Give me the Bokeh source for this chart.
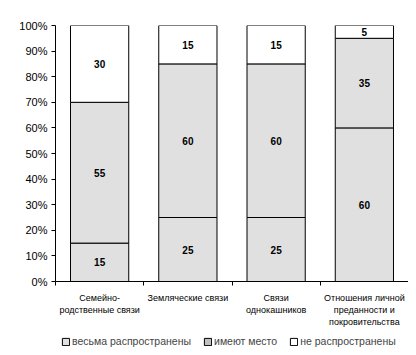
from bokeh.plotting import figure
from bokeh.layouts import column
from bokeh.models import (ColumnDataSource, Range1d, FixedTicker, PrintfTickFormatter,
                          Legend, LegendItem)
from bokeh.core.properties import value
from bokeh.embed import file_html
from bokeh.resources import INLINE
import numpy as np

categories = ["Семейно-\nродственные связи", "Земляческие связи",
              "Связи\nоднокашников", "Отношения личной\nпреданности и\nпокровительства"]
series_names = ["весьма распространены", "имеют место", "не распространены"]
widespread = [15, 25, 25, 60]
present = [55, 60, 60, 35]
absent = [30, 15, 15, 5]
y_ticks = [0, 10, 20, 30, 40, 50, 60, 70, 80, 90, 100]
bar_fills = ["#E0E0E0", "#E0E0E0", "#FFFFFF"]
legend_fills = ["#E0E0E0", "#C0C0C0", "#FFFFFF"]

n = len(categories)
centers = list(np.arange(n) + 0.5)
boundaries = list(range(n + 1))

src = ColumnDataSource(dict(x=centers, a=widespread, b=present, c=absent))

p = figure(width=408, height=329, output_backend="svg", toolbar_location=None,
           x_range=Range1d(0, n), y_range=Range1d(0, 100),
           min_border_left=55, min_border_right=0, min_border_top=25, min_border_bottom=44)
p.outline_line_color = None
p.xgrid.visible = False
p.ygrid.visible = False

rs = p.vbar_stack(["a", "b", "c"], x="x", width=0.66, source=src,
                  fill_color=bar_fills, line_color="black", line_width=1)

# segment labels
vals = np.array([widespread, present, absent], dtype=float)
cum = np.cumsum(vals, axis=0)
mids = cum - vals / 2
lx, ly, lt = [], [], []
for i in range(vals.shape[0]):
    for j in range(n):
        lx.append(centers[j]); ly.append(mids[i, j]); lt.append(str(int(vals[i, j])))
p.text(x=lx, y=ly, text=lt, text_align="center", text_baseline="middle",
       text_font=value("Liberation Sans"), text_font_style="bold",
       text_font_size="10px", text_color="black")

# y axis
p.yaxis.ticker = FixedTicker(ticks=y_ticks)
p.yaxis.formatter = PrintfTickFormatter(format="%d%%")
p.yaxis.major_label_text_font = "Liberation Sans"
p.yaxis.major_label_text_font_size = "11px"
p.yaxis.major_label_text_color = "black"
p.yaxis.major_tick_out = 4
p.yaxis.major_tick_in = 0
p.yaxis.minor_tick_line_color = None
p.yaxis.axis_line_color = "black"
p.yaxis.major_tick_line_color = "black"
p.yaxis.major_label_standoff = 4

# x axis: ticks at boundaries (minor), labels at centers
p.xaxis.ticker = FixedTicker(ticks=centers, minor_ticks=boundaries)
p.xaxis.major_label_overrides = {float(c): lab for c, lab in zip(centers, categories)}
p.xaxis.major_tick_line_color = None
p.xaxis.minor_tick_out = 4
p.xaxis.minor_tick_in = 0
p.xaxis.minor_tick_line_color = "black"
p.xaxis.axis_line_color = "black"
p.xaxis.major_label_text_font = "Liberation Sans"
p.xaxis.major_label_text_font_size = "9px"
p.xaxis.major_label_text_color = "black"
p.xaxis.major_label_standoff = 5

# legend strip (swatches come from a hidden renderer holding the series styles)
lg = figure(width=408, height=18, output_backend="svg", toolbar_location=None,
            x_range=Range1d(0, 1), y_range=Range1d(0, 1),
            x_axis_location=None, y_axis_location=None,
            min_border_left=0, min_border_right=0, min_border_top=0, min_border_bottom=0)
lg.grid.visible = False
lg.outline_line_color = None
lsrc = ColumnDataSource(dict(x=list(range(len(series_names))), top=[0] * len(series_names),
                             fill=legend_fills, name=series_names))
lr = lg.vbar(x="x", top="top", width=0.5, fill_color="fill", line_color="black", source=lsrc)
lr.visible = False
items = [LegendItem(label=series_names[i], renderers=[lr], index=i) for i in range(len(series_names))]
legend = Legend(items=items, orientation="horizontal", location=(6, 0),
                label_text_font="Liberation Sans", label_text_font_size="10.5px",
                glyph_width=9, glyph_height=9, label_standoff=2, spacing=12,
                padding=2, margin=0, border_line_color=None,
                background_fill_alpha=0, label_height=10, click_policy="none")
lg.add_layout(legend, "center")

layout = column(p, lg, spacing=0)
open("out.html", "w").write(file_html(layout, INLINE))
